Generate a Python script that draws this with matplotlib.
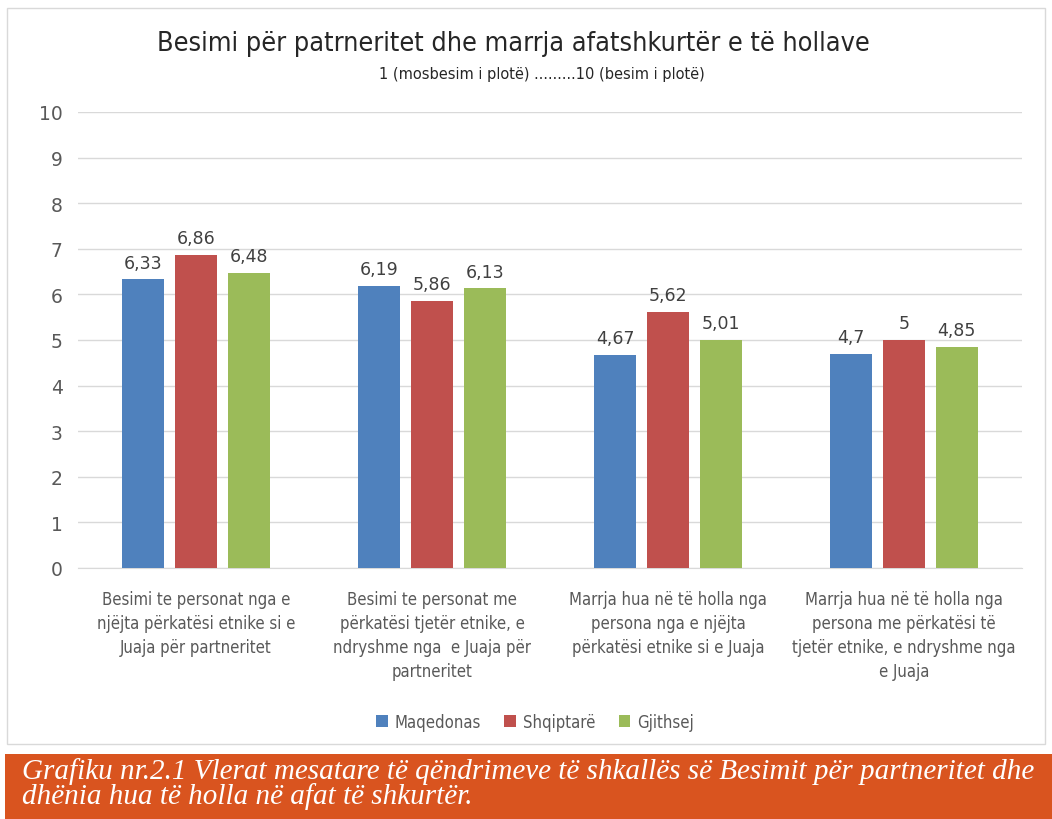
import matplotlib
matplotlib.use("Agg")
import matplotlib.pyplot as plt
import numpy as np
from matplotlib.patches import Rectangle

categories = [
    "Besimi te personat nga e\nnjëjta përkatësi etnike si e\nJuaja për partneritet",
    "Besimi te personat me\npërkatësi tjetër etnike, e\nndryshme nga  e Juaja për\npartneritet",
    "Marrja hua në të holla nga\npersona nga e njëjta\npërkatësi etnike si e Juaja",
    "Marrja hua në të holla nga\npersona me përkatësi të\ntjetër etnike, e ndryshme nga\ne Juaja",
]
series_names = ["Maqedonas", "Shqiptarë", "Gjithsej"]
maqedonas = [6.33, 6.19, 4.67, 4.70]
shqiptare = [6.86, 5.86, 5.62, 5.00]
gjithsej = [6.48, 6.13, 5.01, 4.85]
value_labels = [
    ["6,33", "6,19", "4,67", "4,7"],
    ["6,86", "5,86", "5,62", "5"],
    ["6,48", "6,13", "5,01", "4,85"],
]
colors = ["#4F81BD", "#C0504D", "#9BBB59"]

plt.rcParams["font.family"] = ["DejaVu Sans"]
narrow = dict(family="DejaVu Sans", fontstretch="condensed")

fig = plt.figure(figsize=(10.52, 8.2), dpi=100)
W, H = 1052, 820

# chart frame and caption band
fig.patches.append(Rectangle((7 / W, (H - 745) / H), 1038 / W, 736 / H, transform=fig.transFigure,
                             facecolor="none", edgecolor="#D9D9D9", linewidth=1.0, zorder=-1))
fig.patches.append(Rectangle((5 / W, 0), 1 - 5 / W, 65 / H, transform=fig.transFigure,
                             facecolor="#D9541F", edgecolor="none", zorder=-1))

ax = fig.add_axes([78 / W, (H - 569) / H, 944 / W, 456 / H])
ax.set_facecolor("none")
x = np.arange(len(categories))
width = 0.175
offset = 0.224
for i, (vals, name) in enumerate(zip([maqedonas, shqiptare, gjithsej], series_names)):
    bars = ax.bar(x + (i - 1) * offset, vals, width, color=colors[i], label=name, zorder=3)
    for b, lab in zip(bars, value_labels[i]):
        ax.text(b.get_x() + b.get_width() / 2, b.get_height() + 0.17, lab, ha="center", va="bottom",
                fontsize=12.5, color="#404040")

ax.set_ylim(0, 10)
ax.set_xlim(-0.5, 3.5)
ax.set_yticks(range(0, 11))
ax.yaxis.grid(True, color="#D9D9D9", linewidth=1.0, zorder=0)
ax.set_axisbelow(True)
for s in ["top", "right", "left"]:
    ax.spines[s].set_visible(False)
ax.spines["bottom"].set_color("#D9D9D9")
ax.tick_params(axis="y", length=0, pad=11, labelsize=13.5, labelcolor="#595959")
ax.set_xticks(x)
ax.set_xticklabels(categories, fontsize=12, color="#595959", linespacing=1.42, va="top", **narrow)
ax.tick_params(axis="x", length=0, pad=16)

fig.text(513 / W, 1 - 44 / H, "Besimi për patrneritet dhe marrja afatshkurtër e të hollave",
         ha="center", va="center", fontsize=19.4, color="#262626", **narrow)
fig.text(542 / W, 1 - 75 / H, "1 (mosbesim i plotë) .........10 (besim i plotë)",
         ha="center", va="center", fontsize=11.7, color="#262626", **narrow)

fig.legend(loc="center", bbox_to_anchor=(535 / W, 1 - 723 / H), ncol=3, frameon=False,
           handlelength=0.7, handleheight=0.7, columnspacing=1.4, handletextpad=0.4,
           labelcolor="#595959", prop=dict(size=12, stretch="condensed"))

cap = dict(ha="left", va="center", fontsize=21, color="white", style="italic",
           family=["Liberation Serif", "DejaVu Serif"])
fig.text(22 / W, 1 - 772 / H,
         "Grafiku nr.2.1 Vlerat mesatare të qëndrimeve të shkallës së Besimit për partneritet dhe", **cap)
fig.text(22 / W, 1 - 797 / H, "dhënia hua të holla në afat të shkurtër.", **cap)

fig.savefig("out.png", dpi=100)
